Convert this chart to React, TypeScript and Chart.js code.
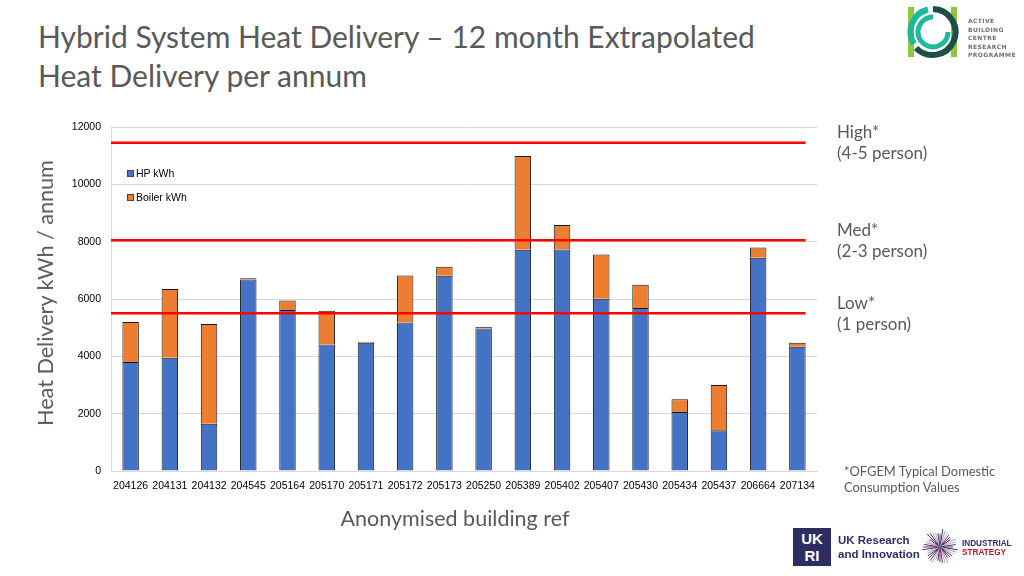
import React, { useEffect, useRef } from "react";
import { Chart, registerables } from "chart.js";

Chart.register(...registerables);

const buildings = [
  "204126", "204131", "204132", "204545", "205164", "205170", "205171", "205172", "205173",
  "205250", "205389", "205402", "205407", "205430", "205434", "205437", "206664", "207134",
];
const hpKwh = [3800, 3950, 1650, 6680, 5620, 4410, 4470, 5180, 6810, 4970, 7720, 7730, 6010, 5690, 2060, 1420, 7440, 4330];
const boilerKwh = [1400, 2400, 3480, 40, 330, 1180, 35, 1640, 315, 55, 3270, 850, 1540, 810, 440, 1580, 360, 140];
const yTickMin = 0;
const yTickMax = 12000;
const yTickStep = 2000;
const benchmarkValues = [11450, 8050, 5500];
const benchmarkNames = ["High*", "Med*", "Low*"];
const benchmarkPeople = ["(4-5 person)", "(2-3 person)", "(1 person)"];
const seriesNames = ["HP kWh", "Boiler kWh"];
const seriesColors = ["#4472C4", "#ED7D31"];

const TICK_FONT = "'Liberation Sans', Arial, sans-serif";
const GREY = "#595959";

const benchPlugin = {
  id: "benchLines",
  afterDatasetsDraw(chart: any) {
    const { ctx, chartArea, scales } = chart;
    const y = scales.y;
    const meta = chart.getDatasetMeta(0);
    const last: any = meta.data[meta.data.length - 1];
    const xEnd = last.x + last.width / 2;
    ctx.save();
    benchmarkValues.forEach((v, i) => {
      const py = y.getPixelForValue(v);
      ctx.strokeStyle = "#FF0000";
      ctx.lineWidth = 2.5;
      ctx.beginPath();
      ctx.moveTo(chartArea.left, py);
      ctx.lineTo(xEnd, py);
      ctx.stroke();
      ctx.fillStyle = GREY;
      ctx.font = "17px Lato";
      ctx.textBaseline = "middle";
      ctx.textAlign = "left";
      ctx.fillText(benchmarkNames[i], 837, py - 10);
      ctx.fillText(benchmarkPeople[i], 837, py + 11);
    });
    ctx.restore();
  },
};

function ChartCanvas() {
  const ref = useRef<HTMLCanvasElement>(null);
  useEffect(() => {
    if (!ref.current) return;
    const chart = new Chart(ref.current, {
      type: "bar",
      data: {
        labels: buildings,
        datasets: [
          {
            label: seriesNames[0],
            data: hpKwh,
            backgroundColor: seriesColors[0],
            borderColor: "#1a1a1a",
            borderWidth: 1,
            categoryPercentage: 1,
            barPercentage: 0.42,
          },
          {
            label: seriesNames[1],
            data: boilerKwh,
            backgroundColor: seriesColors[1],
            borderColor: "#1a1a1a",
            borderWidth: 1,
            categoryPercentage: 1,
            barPercentage: 0.42,
          },
        ],
      },
      options: {
        animation: false,
        responsive: false,
        maintainAspectRatio: false,
        layout: { padding: { left: 66, top: 127, right: 207, bottom: 75 } },
        plugins: { legend: { display: false }, tooltip: { enabled: false } },
        scales: {
          x: {
            stacked: true,
            grid: { display: false, drawTicks: false },
            border: { display: true, color: "#d9d9d9" },
            ticks: {
              color: "#000",
              font: { family: TICK_FONT, size: 10.5 },
              autoSkip: false,
              maxRotation: 0,
              minRotation: 0,
              padding: 9,
            },
            afterFit: (s: any) => {
              s.height = 30;
            },
          },
          y: {
            stacked: true,
            min: yTickMin,
            max: yTickMax,
            grid: { color: "#d9d9d9", drawTicks: false },
            border: { display: true, color: "#d9d9d9" },
            ticks: {
              stepSize: yTickStep,
              color: "#000",
              font: { family: TICK_FONT, size: 10.5 },
              padding: 10,
              callback: (v: any) => String(v),
            },
            afterFit: (s: any) => {
              s.width = 45;
            },
          },
        },
      },
      plugins: [benchPlugin],
    });
    return () => chart.destroy();
  }, []);
  return <canvas ref={ref} width={1024} height={576} style={{ position: "absolute", left: 0, top: 0 }} />;
}

function AbcLogo() {
  return (
    <div style={{ position: "absolute", left: 906, top: 4, width: 118, height: 58 }}>
      <svg width="56" height="56" viewBox="0 0 56 56" style={{ position: "absolute", left: 0, top: 0 }}>
        <rect x="2" y="3" width="6" height="50" fill="#8dc63f" />
        <rect x="45" y="3" width="6" height="50" fill="#8dc63f" />
        <path d="M 27 5 A 23 23 0 1 1 10 44" fill="none" stroke="#1f4e46" strokeWidth="6" />
        <path d="M 8 40 A 23 23 0 0 1 22 5.5" fill="none" stroke="#1fb89a" strokeWidth="6" />
        <path d="M 27 13 A 15 15 0 1 0 42 28" fill="none" stroke="#1fb89a" strokeWidth="5" />
      </svg>
      <div
        style={{
          position: "absolute",
          left: 62,
          top: 13,
          fontFamily: "'DejaVu Sans', sans-serif",
          fontSize: 6,
          lineHeight: "8.6px",
          letterSpacing: 0.4,
          color: "#6d6e70",
          fontWeight: 600,
          whiteSpace: "nowrap",
        }}
      >
        ACTIVE
        <br />
        BUILDING
        <br />
        CENTRE
        <br />
        RESEARCH
        <br />
        PROGRAMME
      </div>
    </div>
  );
}

function BottomLogos() {
  const rays: React.ReactNode[] = [];
  const cols = ["#c8102e", "#2e2d62", "#8fa7c8", "#d9a0a8", "#1d4f91"];
  for (let i = 0; i < 40; i++) {
    const a = (i / 40) * Math.PI * 2;
    const len = 13 + ((i * 5) % 6);
    rays.push(
      <line
        key={i}
        x1={20}
        y1={20}
        x2={20 + Math.cos(a) * len}
        y2={20 + Math.sin(a) * len}
        stroke={cols[i % cols.length]}
        strokeWidth={1}
      />
    );
  }
  return (
    <>
      <div
        style={{
          position: "absolute",
          left: 793,
          top: 528,
          width: 38,
          height: 38,
          background: "#2e2d62",
          color: "#fff",
          fontFamily: "'Liberation Sans', Arial, sans-serif",
          fontWeight: 700,
          fontSize: 15,
          lineHeight: "17px",
          textAlign: "center",
          paddingTop: 2,
          boxSizing: "border-box",
        }}
      >
        UK
        <br />
        RI
      </div>
      <div
        style={{
          position: "absolute",
          left: 838,
          top: 533,
          fontFamily: "'Liberation Sans', Arial, sans-serif",
          fontWeight: 700,
          fontSize: 11.5,
          lineHeight: "14px",
          color: "#2e2d62",
        }}
      >
        UK Research
        <br />
        and Innovation
      </div>
      <svg width="40" height="40" style={{ position: "absolute", left: 920, top: 527 }}>
        {rays}
      </svg>
      <div
        style={{
          position: "absolute",
          left: 962,
          top: 539,
          fontFamily: "'Liberation Sans', Arial, sans-serif",
          fontWeight: 700,
          fontSize: 8.2,
          lineHeight: "9px",
        }}
      >
        <span style={{ color: "#2e2d62" }}>INDUSTRIAL</span>
        <br />
        <span style={{ color: "#c8102e" }}>STRATEGY</span>
      </div>
    </>
  );
}

export default function App() {
  return (
    <div
      style={{
        position: "fixed",
        left: 0,
        top: 0,
        width: 1024,
        height: 576,
        background: "#fff",
        overflow: "hidden",
      }}
    >
      <div
        style={{
          position: "absolute",
          left: 38,
          top: 17,
          fontFamily: "Lato, sans-serif",
          fontSize: 30,
          lineHeight: "39px",
          color: GREY,
          whiteSpace: "nowrap",
        }}
      >
        Hybrid System Heat Delivery – 12 month Extrapolated
        <br />
        Heat Delivery per annum
      </div>
      <ChartCanvas />
      <div
        style={{
          position: "absolute",
          left: 127,
          top: 167,
          fontFamily: TICK_FONT,
          fontSize: 10.5,
          lineHeight: "24px",
          color: "#000",
        }}
      >
        {seriesNames.map((n, i) => (
          <div key={n} style={{ display: "flex", alignItems: "center", height: 24, marginTop: i === 0 ? -6 : 0 }}>
            <span
              style={{
                display: "inline-block",
                width: 5,
                height: 5,
                background: seriesColors[i],
                border: "1px solid #444",
                marginRight: 2,
              }}
            />
            {n}
          </div>
        ))}
      </div>
      <div
        style={{
          position: "absolute",
          left: 45,
          top: 293,
          transform: "translate(-50%, -50%) rotate(-90deg)",
          fontFamily: "Lato, sans-serif",
          fontSize: 21.6,
          color: GREY,
          whiteSpace: "nowrap",
        }}
      >
        Heat Delivery kWh / annum
      </div>
      <div
        style={{
          position: "absolute",
          left: 455,
          top: 518,
          transform: "translate(-50%, -50%)",
          fontFamily: "Lato, sans-serif",
          fontSize: 21.5,
          color: GREY,
          whiteSpace: "nowrap",
        }}
      >
        Anonymised building ref
      </div>
      <div
        style={{
          position: "absolute",
          left: 844,
          top: 463,
          fontFamily: "Lato, sans-serif",
          fontSize: 12.9,
          lineHeight: "16px",
          color: GREY,
          whiteSpace: "nowrap",
        }}
      >
        *OFGEM Typical Domestic
        <br />
        Consumption Values
      </div>
      <AbcLogo />
      <BottomLogos />
    </div>
  );
}
